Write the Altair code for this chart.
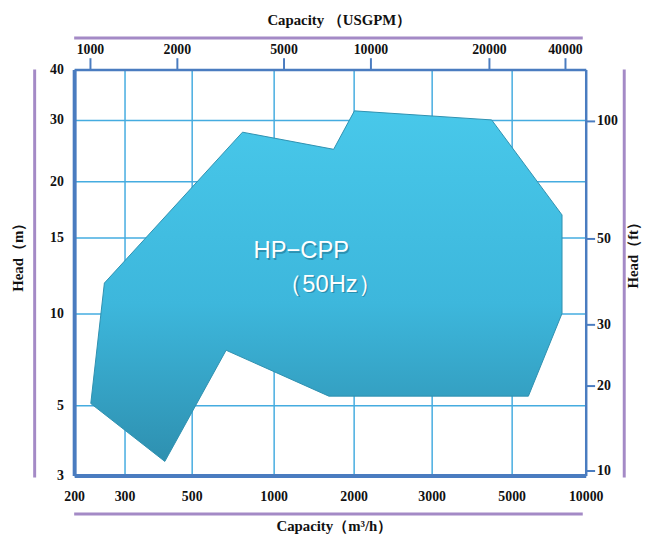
import altair as alt
import pandas as pd

# ---- data ----
cap_ticks = [200, 300, 500, 1000, 2000, 3000, 5000, 10000]          # m3/h
head_ticks = [3, 5, 10, 15, 20, 30, 40]                              # m
gpm_ticks = [1000, 2000, 5000, 10000, 20000, 40000]                  # USGPM
ft_ticks = [10, 20, 30, 50, 100]                                     # ft

# polygon outline of the HP-CPP (50Hz) range, in m3/h and m
poly_q = [233, 260, 810, 1750, 2010, 4500, 8400, 8400, 6130, 1690, 710, 420]
poly_h = [5.1, 12.0, 28.0, 25.2, 31.8, 30.0, 17.0, 10.0, 5.5, 5.5, 8.0, 3.4]

label_text = ["HP−CPP", "（50Hz）"]
label_q = [1346, 1704]
label_h = [14.1, 11.9]

# ---- scales (the reference axes are hand-spaced, so piecewise scales) ----
W, H = 518, 411
x_scale = alt.Scale(type="linear", domain=cap_ticks,
                    range=[0, 51, 119, 202, 283, 362, 443, 518], nice=False, zero=False)
y_scale = alt.Scale(type="linear", domain=head_ticks,
                    range=[411, 340, 247, 170, 113, 51, 0], nice=False, zero=False)
gpm_scale = alt.Scale(type="linear", domain=[880] + gpm_ticks + [44030],
                      range=[0, 16, 104, 212, 300, 420, 497, 518], nice=False, zero=False)
ft_scale = alt.Scale(type="linear", domain=[9.84] + ft_ticks + [131.2],
                     range=[411, 406, 320, 258, 171, 52, 0], nice=False, zero=False)

FRAME = "#4a7cc0"
GRID = "#45ace0"
PURPLE = "#a48ac6"
SERIF = "Liberation Serif"

poly_df = pd.DataFrame({"q": poly_q, "h": poly_h, "i": list(range(len(poly_q)))})
lab_df = pd.DataFrame({"q": label_q, "h": label_h, "t": label_text})

gradient = alt.Gradient(
    gradient="linear",
    stops=[alt.GradientStop(color="#48c8ea", offset=0),
           alt.GradientStop(color="#3db7dc", offset=0.55),
           alt.GradientStop(color="#2e90b0", offset=1)],
    x1=0, x2=0, y1=0, y2=1,
)

poly = alt.Chart(poly_df).mark_line(
    interpolate="linear-closed", fill=gradient, stroke="#2f90b0", strokeWidth=1
).encode(
    x=alt.X("q:Q", scale=x_scale,
            axis=alt.Axis(orient="bottom", values=cap_ticks, format="d", ticks=False,
                          grid=True, gridColor=GRID, gridWidth=1.5, gridOpacity=1,
                          domainColor=FRAME, domainWidth=4,
                          labelFont=SERIF, labelFontWeight="bold", labelFontSize=14,
                          labelColor="#111", labelPadding=14, labelFlush=False,
                          title="Capacity（m³/h）", titleFont=SERIF, titleFontWeight="bold",
                          titleFontSize=15, titleColor="#111", titleY=51, titleX=263,
                          titleBaseline="middle")),
    y=alt.Y("h:Q", scale=y_scale,
            axis=alt.Axis(orient="left", values=head_ticks, format="d", ticks=False,
                          grid=True, gridColor=GRID, gridWidth=1.5, gridOpacity=1,
                          domainColor=FRAME, domainWidth=4,
                          labelFont=SERIF, labelFontWeight="bold", labelFontSize=14,
                          labelColor="#111", labelPadding=11, labelFlush=False,
                          title="Head（m）", titleFont=SERIF, titleFontWeight="bold",
                          titleFontSize=15, titleColor="#111", titleX=-57, titleY=186,
                          titleAngle=270, titleBaseline="middle")),
    order="i:O",
)

shadow = alt.Chart(lab_df).mark_text(
    font="Liberation Sans", fontSize=24, color="#1c6e8a", opacity=0.55, dx=1.5, dy=1.5
).encode(
    x=alt.X("q:Q", scale=x_scale, axis=None),
    y=alt.Y("h:Q", scale=y_scale, axis=None),
    text="t:N",
)
labels = alt.Chart(lab_df).mark_text(
    font="Liberation Sans", fontSize=24, color="white"
).encode(
    x=alt.X("q:Q", scale=x_scale, axis=None),
    y=alt.Y("h:Q", scale=y_scale, axis=None),
    text="t:N",
)

top_axis = alt.Chart(pd.DataFrame({"g": gpm_ticks})).mark_tick(opacity=0).encode(
    x=alt.X("g:Q", scale=gpm_scale,
            axis=alt.Axis(orient="top", values=gpm_ticks, format="d", ticks=True,
                          tickSize=12, tickColor=FRAME, tickWidth=2, grid=False,
                          domainColor=FRAME, domainWidth=2.5,
                          labelFont=SERIF, labelFontWeight="bold", labelFontSize=14,
                          labelColor="#111", labelPadding=1, labelFlush=False,
                          title="Capacity （USGPM）", titleFont=SERIF, titleFontWeight="bold",
                          titleFontSize=15, titleColor="#111", titleY=-51, titleX=268,
                          titleBaseline="middle")),
)

right_axis = alt.Chart(pd.DataFrame({"f": ft_ticks})).mark_tick(opacity=0).encode(
    y=alt.Y("f:Q", scale=ft_scale,
            axis=alt.Axis(orient="right", values=ft_ticks, format="d", ticks=True,
                          tickSize=9, tickColor=FRAME, tickWidth=2, grid=False,
                          domainColor=FRAME, domainWidth=2.5,
                          labelFont=SERIF, labelFontWeight="bold", labelFontSize=14,
                          labelColor="#111", labelPadding=2, labelFlush=False,
                          title="Head（ft）", titleFont=SERIF, titleFontWeight="bold",
                          titleFontSize=15, titleColor="#111", titleX=47, titleY=184,
                          titleAngle=270, titleBaseline="middle")),
)

def hline(y, x0, x1):
    return alt.Chart(pd.DataFrame({"a": [0]})).mark_rule(color=PURPLE, strokeWidth=3).encode(
        x=alt.value(x0), x2=alt.value(x1), y=alt.value(y))

def vline(x, y0, y1):
    return alt.Chart(pd.DataFrame({"a": [0]})).mark_rule(color=PURPLE, strokeWidth=3).encode(
        y=alt.value(y0), y2=alt.value(y1), x=alt.value(x))

deco = [hline(-32, 0, 515), hline(450, 0, 515), vline(-40, 0, 413), vline(557, 0, 413)]

chart = alt.layer(poly, shadow, labels, top_axis, right_axis, *deco).resolve_scale(
    x="independent", y="independent"
).resolve_axis(x="independent", y="independent").properties(
    width=W, height=H,
    autosize=alt.AutoSizeParams(type="none"),
    padding={"left": 67, "top": 59, "right": 58, "bottom": 60},
).configure_view(stroke=None).configure(background="white")

chart.save("out.html", embed_options={"renderer": "svg", "actions": False})
